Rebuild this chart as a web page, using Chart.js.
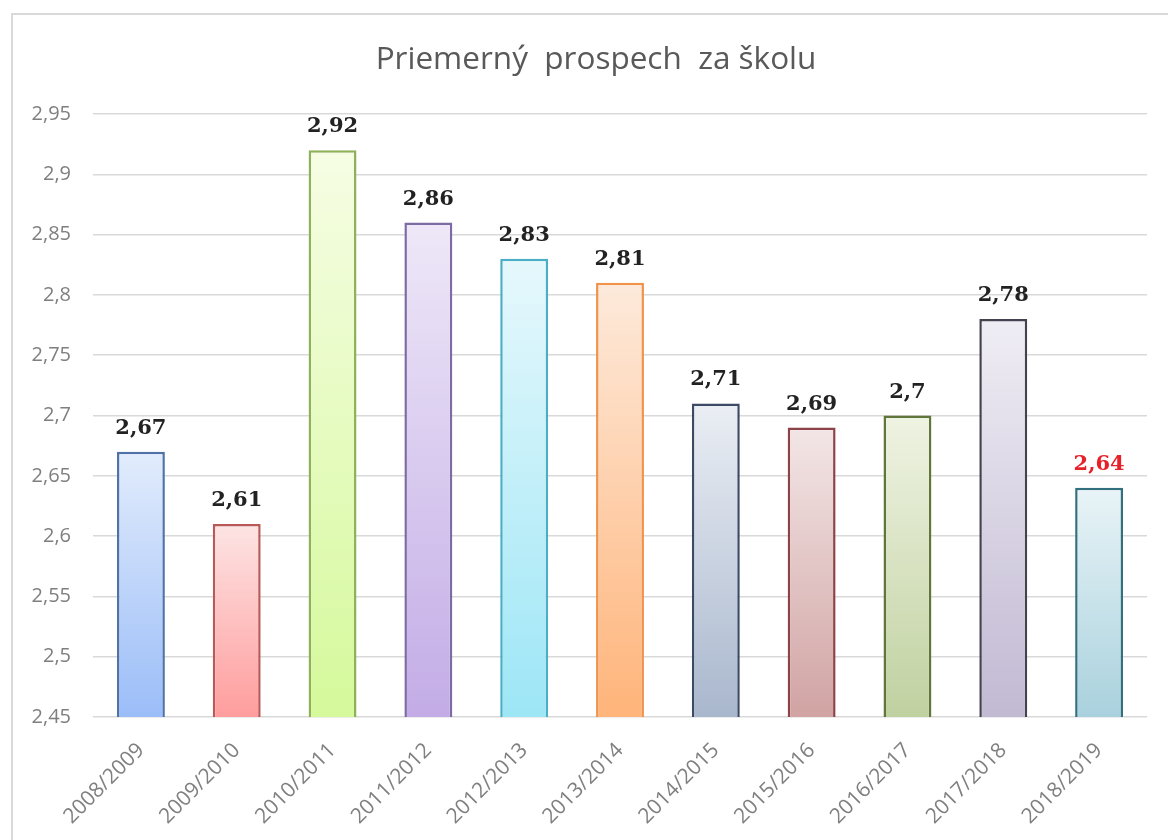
<!DOCTYPE html>
<html>
<head>
<meta charset="utf-8">
<script src="https://cdn.jsdelivr.net/npm/chart.js@4"></script>
<style>
html,body{margin:0;padding:0;background:#fff;}
#wrap{width:1168px;height:840px;position:relative;}
</style>
</head>
<body>
<div id="wrap"><canvas id="c" width="1168" height="840"></canvas></div>
<script>
const titleText = "Priemerný  prospech  za školu";
const categories = ["2008/2009","2009/2010","2010/2011","2011/2012","2012/2013","2013/2014","2014/2015","2015/2016","2016/2017","2017/2018","2018/2019"];
const values = [2.67, 2.61, 2.92, 2.86, 2.83, 2.81, 2.71, 2.69, 2.70, 2.78, 2.64];
const yMin = 2.45, yMax = 2.95, yStep = 0.05;
const borderColors = ["#4f73a8","#b75a58","#8fb15a","#7d6ba3","#4aaec6","#f0924a","#3c4a66","#8c4246","#61763a","#45424f","#33707f"];
const topColors    = ["#e2ecfc","#fde4e4","#f6fde4","#eee8f8","#e6f8fc","#fdeadb","#eaeef4","#f3e6e6","#eff3e3","#efedf4","#e9f4f7"];
const bottomColors = ["#9bbdf8","#ff9d9d","#d5f99b","#c3ace6","#9de6f6","#ffb47a","#a9b7cd","#d1a3a3","#c0d1a0","#c2b9d3","#a9d1dd"];
const labelColors  = ["#222","#222","#222","#222","#222","#222","#222","#222","#222","#222","#e8202a"];

function fmt(v){ return String(parseFloat(v.toFixed(2))).replace('.', ','); }

const framePlugin = {
  id: 'frame',
  beforeDraw(chart){
    const ctx = chart.ctx;
    ctx.save();
    ctx.strokeStyle = '#d9d9d9';
    ctx.lineWidth = 2;
    ctx.beginPath();
    ctx.moveTo(12, 840);
    ctx.lineTo(12, 14);
    ctx.lineTo(1168, 14);
    ctx.stroke();
    ctx.fillStyle = '#595959';
    ctx.font = '31.5px "Open Sans"';
    ctx.textAlign = 'center';
    ctx.textBaseline = 'middle';
    ctx.fillText(titleText, 596, 60);
    ctx.restore();
  }
};

const labelPlugin = {
  id: 'valueLabels',
  afterDatasetsDraw(chart){
    const ctx = chart.ctx;
    const meta = chart.getDatasetMeta(0);
    ctx.save();
    ctx.font = 'bold 21px "DejaVu Serif"';
    ctx.textAlign = 'center';
    ctx.textBaseline = 'alphabetic';
    meta.data.forEach((bar, i) => {
      ctx.fillStyle = labelColors[i];
      ctx.fillText(fmt(values[i]), bar.x, bar.y - 18);
    });
    ctx.restore();
  }
};

function bg(context){
  const chart = context.chart;
  const i = context.dataIndex;
  const area = chart.chartArea;
  if (!area || i === undefined) return topColors[i] || '#ccc';
  const yTop = chart.scales.y.getPixelForValue(values[i]);
  const g = chart.ctx.createLinearGradient(0, yTop, 0, area.bottom);
  g.addColorStop(0, topColors[i]);
  g.addColorStop(1, bottomColors[i]);
  return g;
}

new Chart(document.getElementById('c'), {
  type: 'bar',
  data: {
    labels: categories,
    datasets: [{
      data: values,
      backgroundColor: bg,
      borderColor: borderColors,
      borderWidth: 2.5,
      borderSkipped: false,
      categoryPercentage: 1.0,
      barPercentage: 0.5
    }]
  },
  options: {
    responsive: false,
    animation: false,
    devicePixelRatio: 1,
    layout: { padding: { left: 20, right: 21, top: 114, bottom: 0 } },
    plugins: {
      legend: { display: false },
      tooltip: { enabled: false },
      title: { display: false }
    },
    scales: {
      y: {
        min: yMin, max: yMax,
        ticks: {
          stepSize: yStep,
          color: '#7f7f7f',
          font: { family: '"Open Sans"', size: 20 },
          padding: 22,
          callback: v => fmt(v)
        },
        grid: { color: '#d9d9d9', lineWidth: 1.5, drawTicks: false },
        border: { display: false },
        afterFit(scale){ scale.width = 73; }
      },
      x: {
        ticks: {
          color: '#7f7f7f',
          font: { family: '"Open Sans"', size: 21 },
          maxRotation: 45, minRotation: 45,
          padding: 21
        },
        grid: { display: false, drawTicks: false },
        border: { display: false },
        afterFit(scale){ scale.height = 123; }
      }
    }
  },
  plugins: [framePlugin, labelPlugin]
});
</script>
</body>
</html>
